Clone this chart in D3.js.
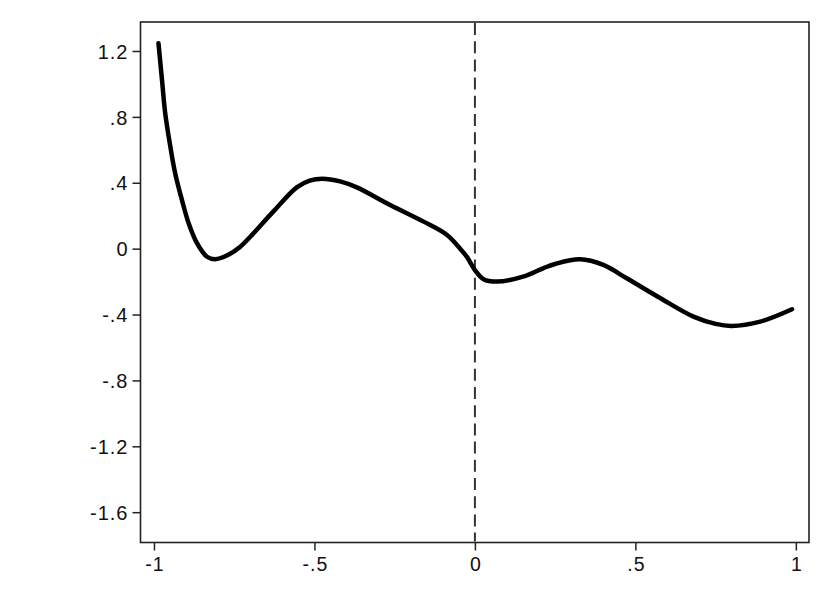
<!DOCTYPE html>
<html>
<head>
<meta charset="utf-8">
<script src="https://cdn.jsdelivr.net/npm/d3@7"></script>
<style>
  html, body { margin: 0; padding: 0; background: #fff; }
  svg { display: block; }
</style>
</head>
<body>
<svg id="chart" width="830" height="604"></svg>
<script>
// ---- data ----
const xValues = [-0.986, -0.975, -0.965, -0.949, -0.934, -0.913, -0.892, -0.866, -0.835, -0.809, -0.773, -0.731, -0.70, -0.627, -0.555, -0.515, -0.475, -0.42, -0.368, -0.264, -0.160, -0.087, -0.046, -0.025, 0, 0.027, 0.069, 0.15, 0.214, 0.25, 0.328, 0.40, 0.473, 0.577, 0.681, 0.75, 0.80, 0.889, 0.988];
const yValues = [1.247, 1.024, 0.822, 0.619, 0.458, 0.296, 0.154, 0.033, -0.049, -0.064, -0.042, 0.012, 0.072, 0.228, 0.372, 0.413, 0.425, 0.408, 0.372, 0.265, 0.164, 0.083, 0.0, -0.05, -0.13, -0.186, -0.2, -0.17, -0.118, -0.093, -0.065, -0.099, -0.18, -0.30, -0.413, -0.457, -0.469, -0.443, -0.368];
const xTicks = [-1, -0.5, 0, 0.5, 1];
const xTickLabels = ["-1", "-.5", "0", ".5", "1"];
const yTicks = [-1.6, -1.2, -0.8, -0.4, 0, 0.4, 0.8, 1.2];
const yTickLabels = ["-1.6", "-1.2", "-.8", "-.4", "0", ".4", ".8", "1.2"];
const refLineX = 0;

// ---- layout ----
const mLeft = 140.5, mRight = 809, mTop = 22, mBottom = 542.5;
const svg = d3.select("#chart");
const FONT = '"Liberation Sans", Arial, sans-serif';

const x = d3.scaleLinear().domain([-1.042, 1.041]).range([mLeft, mRight]);
const y = d3.scaleLinear().domain([-1.784, 1.376]).range([mBottom, mTop]);

// y axis
const yAxis = d3.axisLeft(y).tickValues(yTicks)
  .tickFormat((d, i) => yTickLabels[i]).tickSize(8).tickPadding(4);
const gy = svg.append("g").attr("transform", `translate(${mLeft},0)`).call(yAxis);
gy.attr("font-size", null).attr("font-family", null);
gy.select(".domain").remove();
gy.selectAll(".tick line").attr("stroke", "#222").attr("stroke-width", 1.5);
gy.selectAll(".tick text").style("font-size", "20px").style("font-family", FONT)
  .style("letter-spacing", "1px").attr("fill", "#111").attr("dy", "0.36em");

// x axis
const xAxis = d3.axisBottom(x).tickValues(xTicks)
  .tickFormat((d, i) => xTickLabels[i]).tickSize(8).tickPadding(7);
const gx = svg.append("g").attr("transform", `translate(0,${mBottom})`).call(xAxis);
gx.attr("font-size", null).attr("font-family", null);
gx.select(".domain").remove();
gx.selectAll(".tick line").attr("stroke", "#222").attr("stroke-width", 1.5);
gx.selectAll(".tick text").style("font-size", "19.5px").style("font-family", FONT)
  .style("letter-spacing", "1px").attr("dx", "0.5px").attr("fill", "#111");

// frame
svg.append("rect")
  .attr("x", mLeft).attr("y", mTop)
  .attr("width", mRight - mLeft).attr("height", mBottom - mTop)
  .attr("fill", "none").attr("stroke", "#222").attr("stroke-width", 1.6);

// reference line
svg.append("line")
  .attr("x1", x(refLineX)).attr("x2", x(refLineX))
  .attr("y1", mTop + 1).attr("y2", mBottom - 1)
  .attr("stroke", "#333").attr("stroke-width", 2)
  .attr("stroke-dasharray", "12,6.2");

// curve
const pts = xValues.map((v, i) => [v, yValues[i]]);
const line = d3.line().x(d => x(d[0])).y(d => y(d[1])).curve(d3.curveCatmullRom.alpha(0.5));
svg.append("path").datum(pts)
  .attr("d", line)
  .attr("fill", "none").attr("stroke", "#000")
  .attr("stroke-width", 4.5).attr("stroke-linejoin", "round").attr("stroke-linecap", "round");
</script>
</body>
</html>
